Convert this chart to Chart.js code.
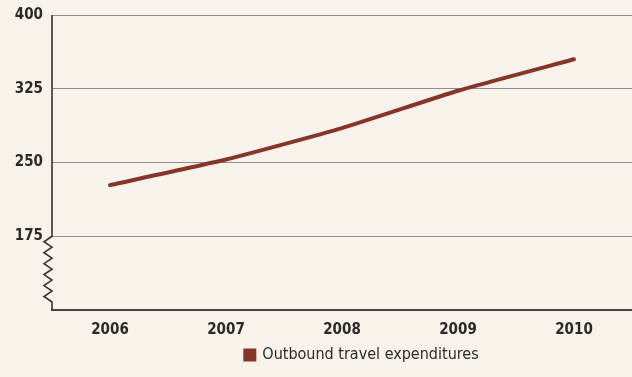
<!DOCTYPE html>
<html>
<head>
<meta charset="utf-8">
<script src="https://cdn.jsdelivr.net/npm/chart.js@4.4.1/dist/chart.umd.min.js"></script>
<style>
  html, body { margin: 0; padding: 0; background: #f7f3ea; }
  #wrap { width: 632px; height: 377px; position: relative; }
</style>
</head>
<body>
<div id="wrap"><canvas id="chart"></canvas></div>
<script>
const years = ["2006", "2007", "2008", "2009", "2010"];
const expenditures = [227, 253, 285, 323, 355];
const yTicks = [100, 175, 250, 325, 400];
const seriesName = "Outbound travel expenditures";

const lineColor = "#853529";
const textColor = "#2a2a2a";
const fontFamily = "'Liberation Sans Narrow', 'DejaVu Sans Condensed', 'Roboto', sans-serif";

// left axis with a zigzag break below 175
const axisBreak = {
    id: "axisBreak",
    afterDraw(chart) {
        const { ctx, chartArea, scales } = chart;
        const x = chartArea.left;
        const yTop = chartArea.top;
        const yBreak = scales.y.getPixelForValue(175);
        const yBottom = chartArea.bottom;
        ctx.save();
        ctx.strokeStyle = "#333";
        ctx.lineWidth = 1.6;
        ctx.lineJoin = "miter";
        ctx.beginPath();
        ctx.moveTo(x, yTop);
        ctx.lineTo(x, yBreak);
        const teeth = 6;
        const zigEnd = yBottom - 8;
        const step = (zigEnd - yBreak) / (teeth * 2);
        for (let i = 1; i <= teeth * 2; i++) {
            ctx.lineTo(i % 2 ? x - 8 : x, yBreak + step * i);
        }
        ctx.lineTo(x, yBottom);
        ctx.stroke();
        ctx.restore();
    }
};

// legend sits a bit right of the canvas centre, under the plot
const legendShift = {
    id: "legendShift",
    afterUpdate(chart) {
        const lg = chart.legend;
        if (!lg) return;
        lg.left += 46;
        lg.right += 46;
    }
};

new Chart(document.getElementById("chart"), {
    type: "line",
    data: {
        labels: years,
        datasets: [{
            label: seriesName,
            data: expenditures,
            borderColor: lineColor,
            backgroundColor: lineColor,
            borderWidth: 4,
            borderCapStyle: "round",
            tension: 0.15,
            pointRadius: 0,
            fill: false
        }]
    },
    options: {
        responsive: true,
        maintainAspectRatio: false,
        animation: false,
        layout: { padding: { top: 0, right: 0, left: 0, bottom: 4 } },
        plugins: {
            tooltip: { enabled: false },
            legend: {
                position: "bottom",
                labels: {
                    usePointStyle: true,
                    pointStyle: "rect",
                    boxWidth: 9,
                    boxHeight: 9,
                    padding: 6,
                    color: textColor,
                    font: { family: fontFamily, size: 16 }
                }
            }
        },
        scales: {
            x: {
                offset: true,
                grid: { display: false },
                border: { display: true, color: "#444", width: 2 },
                ticks: {
                    color: textColor,
                    padding: 3,
                    font: { family: fontFamily, size: 15, weight: "bold" }
                },
                afterFit(scale) { scale.height = 31; }
            },
            y: {
                min: yTicks[0],
                max: yTicks[yTicks.length - 1],
                afterBuildTicks(scale) {
                    scale.ticks = yTicks.map(v => ({ value: v }));
                },
                border: { display: false },
                grid: {
                    color: ctx => ctx.tick && ctx.tick.value === yTicks[0] ? "rgba(0,0,0,0)" : "#8e8e8e",
                    lineWidth: 1,
                    drawTicks: false
                },
                ticks: {
                    color: textColor,
                    padding: 9,
                    font: { family: fontFamily, size: 15, weight: "bold" },
                    callback: v => v === yTicks[0] ? "" : v
                },
                afterFit(scale) {
                    scale.width = 52;
                    scale.paddingTop = 15;
                }
            }
        }
    },
    plugins: [axisBreak, legendShift]
});
</script>
</body>
</html>
